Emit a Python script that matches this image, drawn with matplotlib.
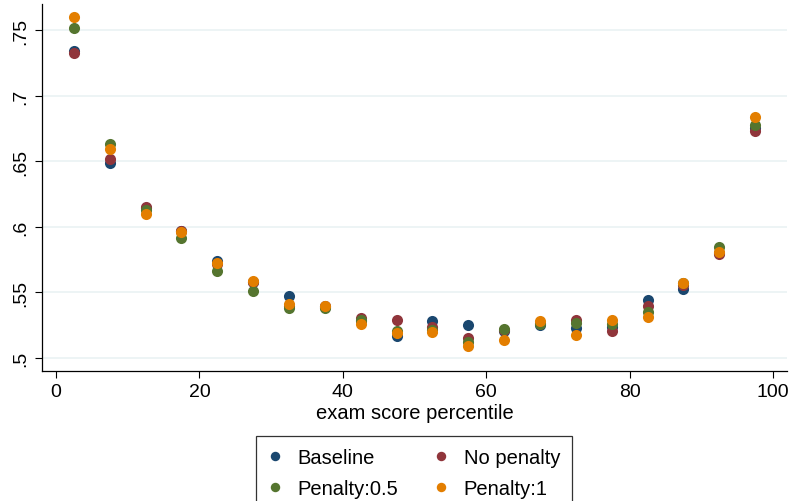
import matplotlib
matplotlib.use("Agg")
import matplotlib.pyplot as plt

plt.rcParams['font.family'] = ['Liberation Sans', 'DejaVu Sans']

percentile = [2.5, 7.5, 12.5, 17.5, 22.5, 27.5, 32.5, 37.5, 42.5, 47.5,
              52.5, 57.5, 62.5, 67.5, 72.5, 77.5, 82.5, 87.5, 92.5, 97.5]
baseline = [0.734, 0.6486, 0.614, 0.597, 0.574, 0.5578, 0.5475, 0.539, 0.528, 0.5165,
            0.528, 0.5252, 0.5206, 0.5255, 0.5226, 0.5234, 0.5442, 0.5526, 0.580, 0.675]
no_penalty = [0.7322, 0.652, 0.6153, 0.597, 0.572, 0.558, 0.540, 0.5394, 0.5302, 0.5292,
              0.5239, 0.515, 0.521, 0.527, 0.5292, 0.5203, 0.5399, 0.556, 0.5793, 0.6728]
penalty_05 = [0.7513, 0.6628, 0.613, 0.5915, 0.5665, 0.5513, 0.538, 0.538, 0.529, 0.5208,
              0.521, 0.5124, 0.5221, 0.526, 0.5267, 0.5259, 0.5353, 0.557, 0.5848, 0.6778]
penalty_1 = [0.760, 0.6593, 0.6098, 0.5963, 0.5722, 0.5585, 0.5415, 0.5394, 0.526, 0.519,
             0.5196, 0.5091, 0.5137, 0.5284, 0.5175, 0.5292, 0.5315, 0.557, 0.581, 0.6835]

series = [("Baseline", baseline, "#1a476f"),
          ("No penalty", no_penalty, "#90353b"),
          ("Penalty:0.5", penalty_05, "#55752f"),
          ("Penalty:1", penalty_1, "#e37e00")]

yticks = [0.5, 0.55, 0.6, 0.65, 0.7, 0.75]
ytick_labels = [".5", ".55", ".6", ".65", ".7", ".75"]
xticks = [0, 20, 40, 60, 80, 100]

fig = plt.figure(figsize=(7.98, 5.02), dpi=100)
ax = fig.add_axes([42/798, 1 - 372/502, (787-42)/798, (372-5)/502])

handles = {}
for label, vals, col in series:
    h, = ax.plot(percentile, vals, linestyle='none', marker='o', markersize=8,
                 color=col, markeredgewidth=0, label=label)
    handles[label] = h

ax.set_xlim(-1.95, 101.95)
ax.set_ylim(0.4901, 0.7698)
ax.set_yticks(yticks)
ax.set_yticklabels(ytick_labels, rotation=90, va='center')
ax.set_xticks(xticks)
ax.tick_params(axis='both', labelsize=14, direction='out', length=5, width=0.8, colors='black')
ax.tick_params(axis='y', pad=4)
ax.grid(axis='y', color='#eaf2f3', linewidth=1.2)
ax.set_axisbelow(True)
for s in ['top', 'right']:
    ax.spines[s].set_visible(False)
for s in ['left', 'bottom']:
    ax.spines[s].set_linewidth(0.9)
ax.set_xlabel("exam score percentile", fontsize=14.5, labelpad=2)

order = ["Baseline", "Penalty:0.5", "No penalty", "Penalty:1"]
leg = fig.legend([handles[k] for k in order], order, ncol=2, loc='upper center',
                 bbox_to_anchor=(0.519, 1 - 437/502), borderaxespad=0,
                 frameon=True, fancybox=False,
                 edgecolor='black', fontsize=14.5, markerscale=0.85,
                 handlelength=0.7, handletextpad=0.75, columnspacing=1.8,
                 borderpad=0.6, labelspacing=0.6)
leg.get_frame().set_linewidth(0.9)

fig.savefig("out.png", dpi=100, facecolor='white')
